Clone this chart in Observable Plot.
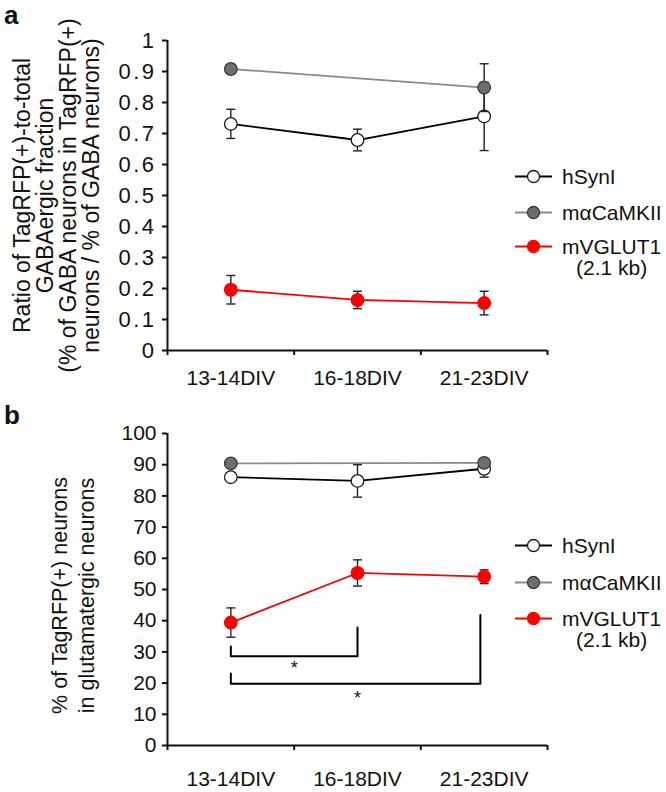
<!DOCTYPE html>
<html><head><meta charset="utf-8">
<script src="https://cdn.jsdelivr.net/npm/d3@7"></script>
<script src="https://cdn.jsdelivr.net/npm/@observablehq/plot@0.6"></script>
<style>
body{margin:0;background:#fff;font-family:"Liberation Sans",Arial,sans-serif;color:#111;}
#wrap{position:relative;width:666px;height:792px;overflow:hidden;}
.panel{position:absolute;left:0;}
.letter{position:absolute;font-weight:bold;font-size:26px;line-height:28px;}
.lrow{position:absolute;left:515px;display:flex;align-items:flex-start;font-size:21px;line-height:21px;white-space:nowrap;}
.lrow .t{margin-left:10px;text-align:center;}
.wide-ticks text{letter-spacing:2.5px;}
</style></head><body>
<div id="wrap"></div>
<script>
const categories = ["13-14DIV", "16-18DIV", "21-23DIV"];
const seriesNames = ["hSynI", "mαCaMKII", "mVGLUT1"];
const legendExtra = "(2.1 kb)";

// Panel a: ratio of TagRFP(+)-to-total GABAergic fraction
const aHSynI = [0.731, 0.679, 0.755];
const aHSynIErr = [0.047, 0.035, 0.11];
const aCaMKII = [0.908, null, 0.848];
const aCaMKIIErr = [0.004, null, 0.077];
const aVGLUT1 = [0.196, 0.163, 0.153];
const aVGLUT1Err = [0.046, 0.028, 0.038];
const aTicks = [0, 0.1, 0.2, 0.3, 0.4, 0.5, 0.6, 0.7, 0.8, 0.9, 1];
const aLabel = "Ratio of TagRFP(+)-to-total\nGABAergic fraction\n(% of GABA neurons in TagRFP(+)\nneurons / % of GABA neurons)";

// Panel b: % of TagRFP(+) neurons in glutamatergic neurons
const bHSynI = [86.0, 84.8, 88.7];
const bHSynIErr = [0.4, 5.2, 2.7];
const bCaMKII = [90.4, null, 90.6];
const bCaMKIIErr = [0.4, null, 0.4];
const bVGLUT1 = [39.4, 55.3, 54.1];
const bVGLUT1Err = [4.7, 4.2, 2.2];
const bTicks = [0, 10, 20, 30, 40, 50, 60, 70, 80, 90, 100];
const bLabel = "% of TagRFP(+) neurons\nin glutamatergic neurons";

// significance brackets: [category index, value]
const bracket1 = [[0, 31.7], [0, 28.6], [1, 28.6], [1, 37.8]];
const bracket2 = [[0, 23.1], [0, 19.8], [1.97, 19.8], [1.97, 41.8]];
const starFrom = [0, 0];
const starTo = [1, 2];
const starY = [24.7, 15.3];

const styles = {
  hSynI: {line: "#000", fill: "#fff", stroke: "#1a1a1a"},
  "mαCaMKII": {line: "#8a8a8a", fill: "#6e6e6e", stroke: "#3a3a3a"},
  mVGLUT1: {line: "#ff0000", fill: "#ff0000", stroke: "#ff0000"}
};

const capSymbol = {draw(ctx, size) { const r = Math.sqrt(size / Math.PI); ctx.moveTo(-r, 0); ctx.lineTo(r, 0); }};
const FONT = '"Liberation Sans", Arial, sans-serif';

function rows(name, vals, errs) {
  return vals.map((v, i) => ({series: name, x: i + 0.5, y: v, err: errs[i]})).filter(d => d.y != null);
}

function makePanel(cfg) {
  const marks = [];
  const seriesData = [
    rows(seriesNames[0], cfg.h, cfg.hErr),
    rows(seriesNames[1], cfg.c, cfg.cErr),
    rows(seriesNames[2], cfg.v, cfg.vErr)
  ];
  marks.push(Plot.axisY({ticks: cfg.ticks, tickSize: 5, tickPadding: 6, strokeWidth: 2, label: null, fontSize: cfg.tickFont, tickFormat: d => String(d), className: cfg.tickClass}));
  marks.push(Plot.axisX({ticks: [0, 1, 2, 3], tickSize: 5, strokeWidth: 2, tickFormat: () => "", label: null}));
  marks.push(Plot.axisX({ticks: [0.5, 1.5, 2.5], tickSize: 0, tickPadding: cfg.xPad, tickFormat: d => categories[Math.floor(d)], label: null, fontSize: 21}));
  marks.push(Plot.ruleX([0], {strokeWidth: 2}));
  marks.push(Plot.ruleY([cfg.ticks[0]], {strokeWidth: 2}));
  marks.push(Plot.text([cfg.label], {frameAnchor: "left", rotate: -90, dx: cfg.labelDx, dy: cfg.labelDy, fontSize: cfg.labelFont, lineHeight: cfg.lineHeight, textAnchor: "middle"}));
  if (cfg.brackets) {
    cfg.brackets.forEach(b => {
      marks.push(Plot.line(b.map(p => ({x: p[0] + 0.5, y: p[1]})), {x: "x", y: "y", stroke: "#000", strokeWidth: 2}));
    });
    const st = starFrom.map((f, i) => ({x: (f + starTo[i]) / 2 + 0.5, y: starY[i]}));
    marks.push(Plot.text(st, {x: "x", y: "y", text: () => "*", fontSize: 18}));
  }
  seriesData.forEach(data => {
    const s = styles[data[0].series];
    marks.push(Plot.line(data, {x: "x", y: "y", stroke: s.line, strokeWidth: 1.8}));
    const ed = data.filter(d => d.err > 0.01 * cfg.ticks[cfg.ticks.length - 1]);
    marks.push(Plot.ruleX(ed, {x: "x", y1: d => d.y - d.err, y2: d => d.y + d.err, stroke: "#222", strokeWidth: 1.4}));
    marks.push(Plot.dot(ed, {x: "x", y: d => d.y + d.err, symbol: capSymbol, r: 4.5, stroke: "#222", strokeWidth: 1.4, fill: "none"}));
    marks.push(Plot.dot(ed, {x: "x", y: d => d.y - d.err, symbol: capSymbol, r: 4.5, stroke: "#222", strokeWidth: 1.4, fill: "none"}));
    marks.push(Plot.dot(data, {x: "x", y: "y", r: 6.3, fill: s.fill, stroke: s.stroke, strokeWidth: 1.3}));
  });
  return Plot.plot({
    width: 666,
    height: cfg.height,
    marginLeft: 167,
    marginRight: 119,
    marginTop: cfg.mt,
    marginBottom: cfg.mb,
    x: {type: "linear", domain: [0, 3]},
    y: {domain: [cfg.ticks[0], cfg.ticks[cfg.ticks.length - 1]]},
    style: {fontFamily: FONT, fontSize: "21px", color: "#111", background: "white"},
    marks
  });
}

const wrap = document.getElementById("wrap");

function addPanel(svg, top) {
  const d = document.createElement("div");
  d.className = "panel";
  d.style.top = top + "px";
  d.appendChild(svg);
  wrap.appendChild(d);
}

addPanel(makePanel({h: aHSynI, hErr: aHSynIErr, c: aCaMKII, cErr: aCaMKIIErr, v: aVGLUT1, vErr: aVGLUT1Err,
  ticks: aTicks, label: aLabel, height: 395, mt: 40, mb: 45, xPad: 20, labelDx: -110, labelDy: 0,
  labelFont: 23, lineHeight: 1.0, tickFont: 22, tickClass: "wide-ticks"}), 0);
addPanel(makePanel({h: bHSynI, hErr: bHSynIErr, c: bCaMKII, cErr: bCaMKIIErr, v: bVGLUT1, vErr: bVGLUT1Err,
  ticks: bTicks, label: bLabel, height: 397, mt: 38, mb: 47, xPad: 26, labelDx: -96, labelDy: 6,
  labelFont: 21.5, lineHeight: 1.25, tickFont: 21, tickClass: "plain-ticks",
  brackets: [bracket1, bracket2]}), 395);

function letter(t, left, top) {
  const d = document.createElement("div");
  d.className = "letter";
  d.textContent = t;
  d.style.left = left + "px";
  d.style.top = top + "px";
  wrap.appendChild(d);
}
letter("a", 4, 1);
letter("b", 4, 401);

function legend(centers) {
  seriesNames.forEach((name, i) => {
    const s = styles[name];
    const row = document.createElement("div");
    row.className = "lrow";
    row.style.top = (centers[i] - 10.5) + "px";
    const svg = d3.create("svg").attr("width", 37).attr("height", 21);
    svg.append("line").attr("x1", 0).attr("x2", 37).attr("y1", 10.5).attr("y2", 10.5).attr("stroke", s.line).attr("stroke-width", 1.8);
    svg.append("circle").attr("cx", 18.5).attr("cy", 10.5).attr("r", 6).attr("fill", s.fill).attr("stroke", s.stroke).attr("stroke-width", 1.3);
    row.appendChild(svg.node());
    const t = document.createElement("div");
    t.className = "t";
    t.innerHTML = i === 2 ? name + "<br>" + legendExtra : name;
    row.appendChild(t);
    wrap.appendChild(row);
  });
}
legend([176, 212.7, 246.7]);
legend([545, 582.7, 618]);
</script>
</body></html>
